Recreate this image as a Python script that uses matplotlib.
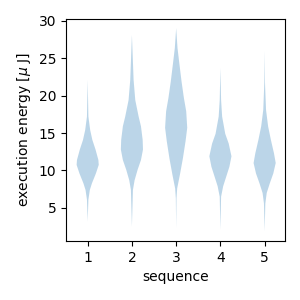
import matplotlib
matplotlib.use("Agg")
import matplotlib.pyplot as plt
import numpy as np

# sequence positions
sequences = [1, 2, 3, 4, 5]

# energy levels (y) and relative density (half-width)
seq1_y = [3.2, 6.1, 7.4, 8.3, 9.6, 10.75, 11.4, 12.8, 14.1, 15.4, 17.2, 22.1]
seq1_w = [0, 2, 6, 12, 23, 31, 30, 22, 13, 7, 2, 0]

seq2_y = [2.5, 7.4, 8.7, 10.1, 11.4, 12.8, 14.1, 15.9, 17.2, 19.4, 22.1, 28.1]
seq2_w = [0, 3, 8, 17, 27, 33, 32, 27, 20, 10, 5, 0]

seq3_y = [2.3, 6.3, 7.6, 9.4, 11.6, 13.9, 15.7, 17.9, 19.7, 21.9, 24.1, 26.35, 29.0]
seq3_w = [0, 1, 3, 11, 20, 28, 33, 30, 23, 16, 10, 4, 0]

seq4_y = [2.1, 6.5, 7.9, 9.2, 10.5, 11.9, 13.6, 14.9, 17.2, 19.4, 23.7]
seq4_w = [0, 2, 8, 17, 26, 32, 24, 14, 5, 2, 0]

seq5_y = [1.9, 5.6, 7.0, 8.3, 9.6, 11.0, 12.3, 14.1, 15.9, 18.1, 21.7, 26.0]
seq5_w = [0, 2, 6, 15, 25, 32, 27, 18, 10, 4, 1, 0]

profiles = [(seq1_y, seq1_w), (seq2_y, seq2_w), (seq3_y, seq3_w),
            (seq4_y, seq4_w), (seq5_y, seq5_w)]


def make_stats(ys, ws):
    ys = np.asarray(ys, dtype=float)
    ws = np.asarray(ws, dtype=float)
    peak = ys[np.argmax(ws)]
    return {"coords": ys, "vals": ws, "mean": peak, "median": peak,
            "min": ys.min(), "max": ys.max()}


vpstats = [make_stats(y, w) for y, w in profiles]

fig, ax = plt.subplots(figsize=(3, 3), dpi=100)
ax.violin(vpstats, positions=sequences, widths=0.5,
          showmeans=False, showextrema=False, showmedians=False)
ax.set_xticks(sequences)
ax.set_ylim(0.6, 30.2)
ax.set_xlim(0.51, 5.46)
ax.set_yticks([5, 10, 15, 20, 25, 30])
ax.set_xlabel("sequence")
ax.set_ylabel(r"execution energy [$\mu$ J]")
fig.subplots_adjust(left=0.22, right=0.95, bottom=0.197, top=0.936)
fig.savefig("out.png", dpi=100)
plt.close(fig)
